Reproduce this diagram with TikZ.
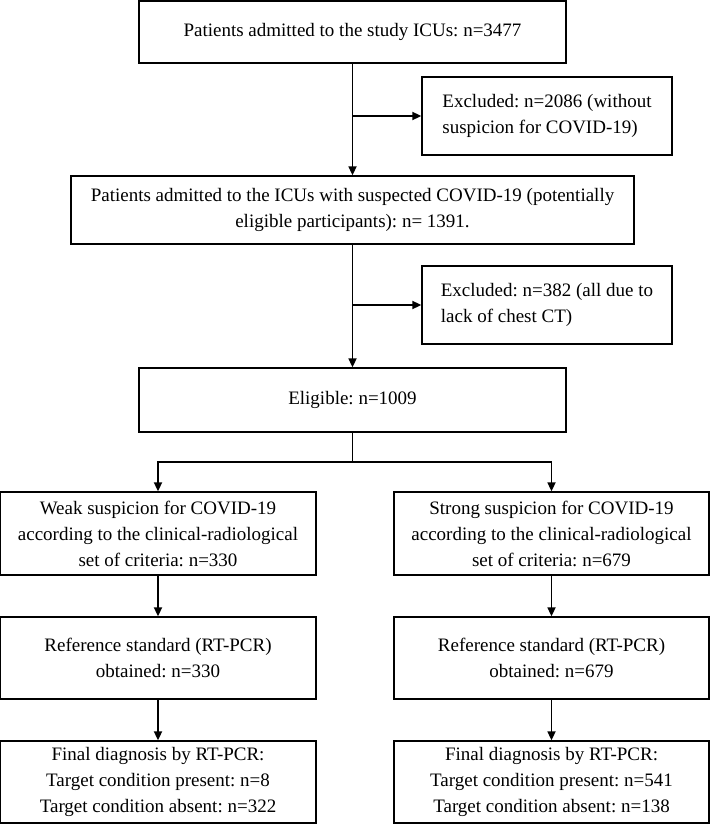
\documentclass[tikz,border=0pt]{standalone}
\usepackage{fontspec}
\setmainfont{Liberation Serif}
\usetikzlibrary{arrows.meta}
\frenchspacing
\begin{document}
\begin{tikzpicture}[x=1pt,y=-1pt,
  box/.style={draw=black, line width=1.3pt, align=center, inner sep=0pt,
    font=\fontsize{19}{26}\selectfont},
  lbox/.style={box, align=left},
  arr/.style={line width=1.7pt, -{Triangle[length=9pt,width=8pt]}},
  ln/.style={line width=1.7pt}]
\useasboundingbox (0,0) rectangle (710,824);
\node[box, minimum width=427pt, minimum height=62pt] (top) at (352.5,32) {Patients admitted to the study ICUs: n=3477};
\node[lbox, minimum width=250pt, minimum height=78pt] (ex1) at (547,116) {Excluded: n=2086 (without\\suspicion for COVID-19)};
\node[box, minimum width=563pt, minimum height=68pt] (sus) at (352.5,210) {Patients admitted to the ICUs with suspected COVID-19 (potentially\\eligible participants): n= 1391.};
\node[lbox, minimum width=250pt, minimum height=78pt] (ex2) at (547,305) {Excluded: n=382 (all due to\\lack of chest CT)};
\node[box, minimum width=427pt, minimum height=64pt] (elig) at (352.5,400) {Eligible: n=1009};
\node[box, minimum width=316pt, minimum height=83pt] (l1) at (158,533.5) {Weak suspicion for COVID-19\\according to the clinical-radiological\\set of criteria: n=330};
\node[box, minimum width=315pt, minimum height=83pt] (r1) at (551.5,533.5) {Strong suspicion for COVID-19\\according to the clinical-radiological\\set of criteria: n=679};
\node[box, minimum width=316pt, minimum height=82pt] (l2) at (158,658) {Reference standard (RT-PCR)\\obtained: n=330};
\node[box, minimum width=315pt, minimum height=82pt] (r2) at (551.5,658) {Reference standard (RT-PCR)\\obtained: n=679};
\node[box, minimum width=316pt, minimum height=82pt] (l3) at (158,782) {Final diagnosis by RT-PCR:\\Target condition present: n=8\\Target condition absent: n=322};
\node[box, minimum width=315pt, minimum height=82pt] (r3) at (551.5,782) {Final diagnosis by RT-PCR:\\Target condition present: n=541\\Target condition absent: n=138};
\draw[arr] (top.south) -- (sus.north);
\coordinate (c1) at (top.south |- ex1.west);
\draw[arr] (c1) -- (ex1.west);
\draw[arr] (sus.south) -- (elig.north);
\coordinate (c2) at (sus.south |- ex2.west);
\draw[arr] (c2) -- (ex2.west);
\coordinate (b) at (352.5,462);
\draw[ln] (elig.south) -- (b);
\draw[arr] (b) -| (l1.north);
\draw[arr] (b) -| (r1.north);
\draw[arr] (l1) -- (l2);
\draw[arr] (r1) -- (r2);
\draw[arr] (l2) -- (l3);
\draw[arr] (r2) -- (r3);
\end{tikzpicture}
\end{document}
